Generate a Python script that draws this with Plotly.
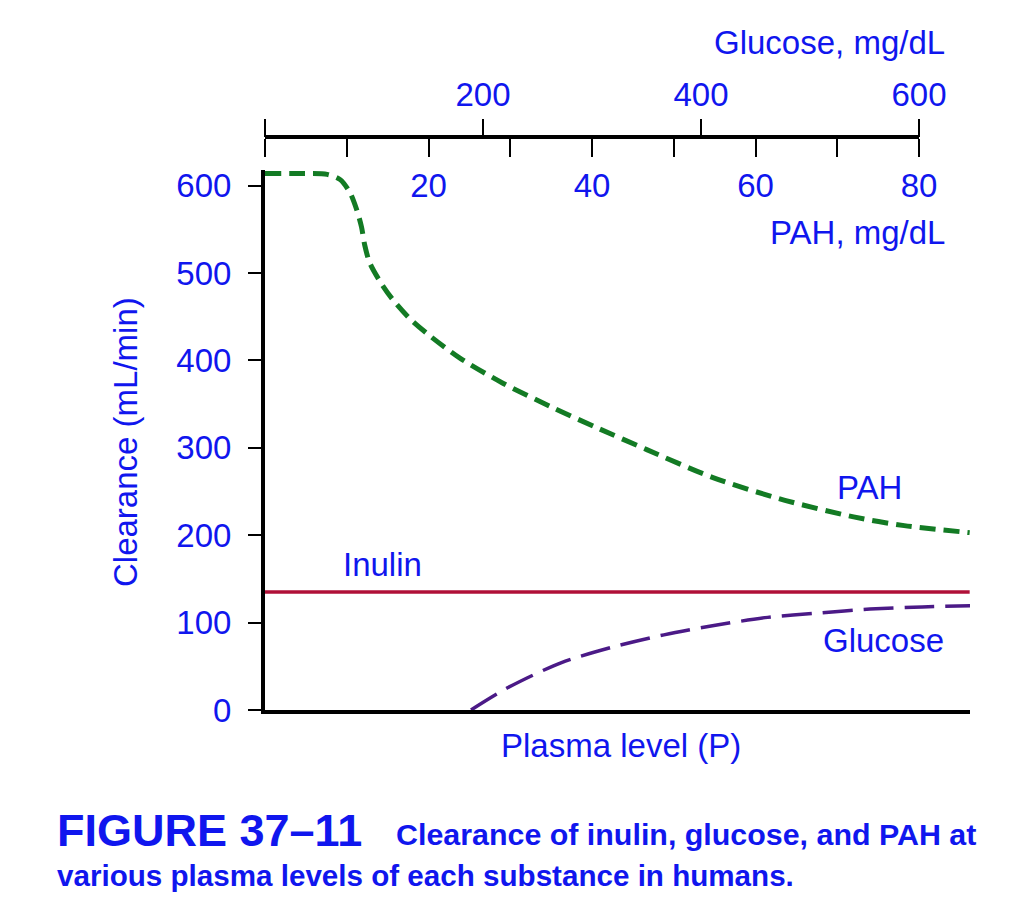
import plotly.graph_objects as go

# ***********
# * Data    *
# ***********

# Plasma level on the PAH scale (mg/dL); the glucose scale is 7.5x this.
pah_x = [0, 4, 7.6, 9.2, 10.4, 11.2, 11.8, 12.2, 12.8, 14.1, 15.6, 17.7,
         20.2, 23.8, 29.1, 35.2, 40.6, 46.7, 54.8, 63.6, 72.0, 78.2, 86.2]
pah_clearance = [614, 614, 613, 607, 592, 573, 553, 532, 512, 490, 470, 448,
                 428, 403, 374, 346, 323, 298, 266, 240, 221, 211, 203]

inulin_x = [0, 86.2]
inulin_clearance = [135, 135]

glucose_x = [25.2, 29.8, 36.2, 42.5, 48.8, 55.1, 61.5, 67.7, 74.0, 80.4, 86.6]
glucose_clearance = [0, 26, 54, 72, 86, 97, 106, 111, 115.5, 118, 119.5]

clearance_ticks = [0, 100, 200, 300, 400, 500, 600]
pah_ticks = [0, 10, 20, 30, 40, 50, 60, 70, 80]
pah_ticktext = ['', '', '20', '', '40', '', '60', '', '80']
glucose_ticks = [0, 200, 400, 600]
glucose_ticktext = ['', '200', '400', '600']

# ****************
# * Build figure *
# ****************

BLUE = '#1016ee'
FONT = 'Liberation Sans, Arial, sans-serif'

# Screen box of the plot area (the page body adds an 8 px offset).
OFF = 8
X0, X1, Y0, Y1 = 265, 970, 137, 710
W, H = 1016, 909
L, T = X0 - OFF, Y0 - OFF
R, B = W - (X1 - OFF), H - (Y1 - OFF)
pw, ph = X1 - X0, Y1 - Y0


def px(x):
    return (x - X0) / pw


def py(y):
    return (Y1 - y) / ph


fig = go.Figure()

fig.add_trace(go.Scatter(
    x=pah_x, y=pah_clearance, mode='lines', name='PAH',
    line=dict(color='#137b24', width=5, dash='16px,8px', shape='spline',
              smoothing=0.8),
    showlegend=False))

fig.add_trace(go.Scatter(
    x=inulin_x, y=inulin_clearance, mode='lines', name='Inulin',
    line=dict(color='#b01038', width=3.5),
    showlegend=False))

fig.add_trace(go.Scatter(
    x=glucose_x, y=glucose_clearance, mode='lines', name='Glucose',
    line=dict(color='#4b1a87', width=3.5, dash='30px,11px', shape='spline',
              smoothing=0.8),
    showlegend=False))

# Invisible traces so the two top scales get drawn.
fig.add_trace(go.Scatter(x=[0], y=[0], xaxis='x2', yaxis='y', mode='markers',
                         marker=dict(opacity=0), hoverinfo='skip',
                         showlegend=False))
fig.add_trace(go.Scatter(x=[0], y=[0], xaxis='x3', yaxis='y', mode='markers',
                         marker=dict(opacity=0), hoverinfo='skip',
                         showlegend=False))

top_domain = [0, (919 - X0) / pw]

fig.update_layout(
    width=W, height=H,
    margin=dict(l=L, r=R, t=T, b=B, autoexpand=False),
    paper_bgcolor='white',
    plot_bgcolor='rgba(0,0,0,0)',
    font=dict(family=FONT, size=33, color=BLUE),
    xaxis=dict(
        domain=[0, 1], range=[0, 86.24], showline=True, linecolor='black',
        linewidth=4, showticklabels=False, ticks='', showgrid=False,
        zeroline=False, anchor='y'),
    yaxis=dict(
        domain=[0, py(170)], range=[0, 618], showline=True,
        linecolor='black', linewidth=4, ticks='outside', ticklen=13,
        tickwidth=2, tickcolor='black', tickvals=clearance_ticks,
        ticklabelstandoff=10, showgrid=False, zeroline=False, anchor='x'),
    xaxis2=dict(
        domain=top_domain, range=[0, 600], anchor='free', position=1,
        side='top', showline=False, ticks='outside', ticklen=18,
        tickwidth=2, tickcolor='black', tickvals=glucose_ticks,
        ticktext=glucose_ticktext, ticklabelstandoff=0, showgrid=False,
        zeroline=False),
    xaxis3=dict(
        domain=top_domain, range=[0, 80], anchor='free', position=1,
        side='bottom', showline=True, linecolor='black', linewidth=4,
        ticks='outside', ticklen=18, tickwidth=2, tickcolor='black',
        tickvals=pah_ticks, ticktext=pah_ticktext, ticklabelstandoff=0,
        showgrid=False, zeroline=False),
)

# Axis titles and curve labels.
annotations = [
    dict(text='Glucose, mg/dL', x=px(947), y=py(42), xanchor='right'),
    dict(text='PAH, mg/dL', x=px(947), y=py(232), xanchor='right'),
    dict(text='Clearance (mL/min)', x=px(125), y=py(442), textangle=-90,
         xanchor='center'),
    dict(text='Plasma level (P)', x=px(621), y=py(745), xanchor='center'),
]
for a in annotations:
    fig.add_annotation(xref='paper', yref='paper', showarrow=False,
                       yanchor='middle', **a)

fig.add_annotation(text='PAH', x=74, y=255, showarrow=False)
fig.add_annotation(text='Inulin', x=14.4, y=166, showarrow=False)
fig.add_annotation(text='Glucose', x=75.6, y=80, showarrow=False)

# Figure caption.
fig.add_annotation(
    text='<b>FIGURE 37\u201311</b>', x=px(55), y=py(830), xref='paper',
    yref='paper', xanchor='left', yanchor='middle', showarrow=False,
    font=dict(size=45))
fig.add_annotation(
    text='<b>Clearance of inulin, glucose, and PAH at</b>', x=px(394),
    y=py(834), xref='paper', yref='paper', xanchor='left', yanchor='middle',
    showarrow=False, font=dict(size=30.4))
fig.add_annotation(
    text='<b>various plasma levels of each substance in humans.</b>',
    x=px(55), y=py(876), xref='paper', yref='paper', xanchor='left',
    yanchor='middle', showarrow=False, font=dict(size=29.6))

fig.write_html('out.html')
